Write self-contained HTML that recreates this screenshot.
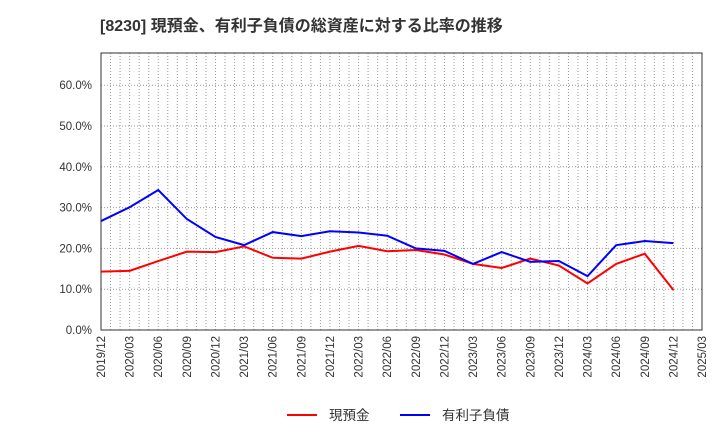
<!DOCTYPE html>
<html><head><meta charset="utf-8"><style>
body{margin:0;background:#fff;font-family:"Liberation Sans","Noto Sans CJK JP",sans-serif;}
</style></head><body>
<svg id="c" width="720" height="440" xmlns="http://www.w3.org/2000/svg">
<text x="100" y="31" font-size="16" font-weight="bold" fill="#333">[8230]  現預金、有利子負債の総資産に対する比率の推移</text>
<g id="grid"></g><g id="axes"></g><g id="series"></g>
<g>
<line x1="287" y1="415" x2="317" y2="415" stroke="#f00" stroke-width="2"/>
<text x="329" y="420" font-size="13.5" fill="#333">現預金</text>
<line x1="400" y1="415" x2="430" y2="415" stroke="#00f" stroke-width="2"/>
<text x="442" y="420" font-size="13.5" fill="#333">有利子負債</text>
</g>
</svg>
<script>
const categories=["2019/12","2020/03","2020/06","2020/09","2020/12","2021/03","2021/06","2021/09","2021/12","2022/03","2022/06","2022/09","2022/12","2023/03","2023/06","2023/09","2023/12","2024/03","2024/06","2024/09","2024/12","2025/03"];
const cashValues=[14.3,14.5,16.9,19.2,19.1,20.5,17.7,17.5,19.2,20.6,19.3,19.6,18.5,16.2,15.2,17.5,15.8,11.4,16.2,18.7,9.8];
const debtValues=[26.7,30.1,34.3,27.2,22.8,20.8,24.0,23.0,24.2,23.9,23.1,20.0,19.4,16.2,19.1,16.7,16.9,13.2,20.8,21.8,21.3];
const yTicks=[0,10,20,30,40,50,60];
const X0=101,X1=702,Y0=330,YT=53;
const xs=i=>X0+i*(X1-X0)/(categories.length-1);
const ys=v=>Y0-v*4.08;
const NS="http://www.w3.org/2000/svg";
function mk(t,a,p){const e=document.createElementNS(NS,t);for(const k in a)e.setAttribute(k,a[k]);p.appendChild(e);return e;}
const grid=document.getElementById('grid'),axes=document.getElementById('axes'),ser=document.getElementById('series');
for(let m=1;m<(categories.length-1)*3;m++){const x=X0+m*(X1-X0)/((categories.length-1)*3);
const l=mk('line',{x1:x,x2:x,y1:YT,y2:Y0,stroke:'#999','stroke-dasharray':'1,2','stroke-width':1},grid);

}
yTicks.forEach(v=>{const y=ys(v);
if(v>0){const g=mk('line',{x1:X0,x2:X1,y1:y,y2:y,stroke:'#999','stroke-dasharray':'1,2'},grid);

}
const t=mk('text',{x:92,y:y+4,'text-anchor':'end','font-size':11.5,fill:'#333'},axes);t.textContent=v.toFixed(1)+'%';

});
mk('rect',{x:X0,y:YT,width:X1-X0,height:Y0-YT,fill:'none',stroke:'#333'},axes);
categories.forEach((c,i)=>{const x=xs(i);
const t=mk('text',{transform:`translate(${x+4},${Y0+6}) rotate(-90)`,'text-anchor':'end','font-size':11.5,fill:'#333'},axes);t.textContent=c;

});
function line(vals,col,name){const p=mk('polyline',{points:vals.map((v,i)=>xs(i)+','+ys(v)).join(' '),fill:'none',stroke:col,'stroke-width':2},ser);

}
line(cashValues,'#f00','cash-line');
line(debtValues,'#00f','debt-line');
</script>
</body></html>
